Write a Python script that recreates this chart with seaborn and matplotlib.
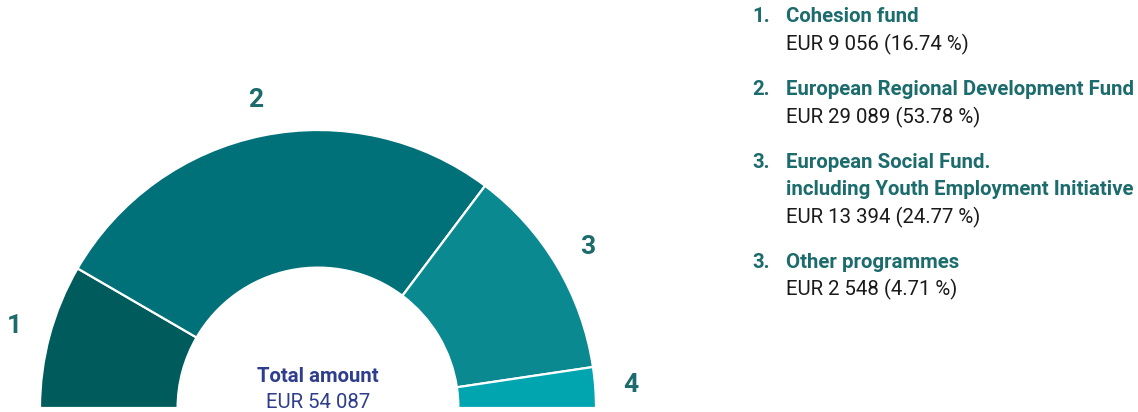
import matplotlib
matplotlib.use("Agg")
import matplotlib.pyplot as plt
from matplotlib import font_manager
import seaborn as sns

# data
seg_ids = ["1", "2", "3", "4"]
legend_nums = ["1.", "2.", "3.", "3."]
fund_names = [["Cohesion fund"],
              ["European Regional Development Fund"],
              ["European Social Fund.", "including Youth Employment Initiative"],
              ["Other programmes"]]
amounts = [9056, 29089, 13394, 2548]
shares = [16.74, 53.78, 24.77, 4.71]
total = 54087

colors = sns.color_palette(["#005b5d", "#007179", "#0a8990", "#00a5b0"])
teal = "#1c6b6d"
navy = "#2e3d8c"

sns.set_theme(style="white")
available = {f.name for f in font_manager.fontManager.ttflist}
fam = "DejaVu Sans"
for cand in ["Roboto", "Open Sans", "Noto Sans"]:
    if cand in available:
        fam = cand
        break
plt.rcParams["font.family"] = [fam, "DejaVu Sans"]

W, H = 1138, 412
fig = plt.figure(figsize=(W / 100, H / 100), dpi=100)
fig.patch.set_facecolor("white")

# half donut: centre (318, 408) px, radius 278 px
ax = fig.add_axes([40 / W, 4 / H, 556 / W, 278 / H])
fracs = [a / (2 * total) for a in amounts]
wedges, texts = ax.pie(fracs, normalize=False, startangle=180, counterclock=False,
                       colors=colors, labels=seg_ids, labeldistance=1.13,
                       wedgeprops=dict(width=0.495, edgecolor="white", linewidth=1.6),
                       textprops=dict(color=teal, fontsize=19, fontweight="bold"))
for t in texts:
    t.set_ha("center")
    t.set_va("center")
ax.set_xlim(-1, 1)
ax.set_ylim(0, 1)
ax.set_aspect("auto")
ax.axis("off")


def px(x, y):
    return x / W, 1 - y / H


fs = 14.7
fig.text(*px(318, 376), "Total amount", color=navy, fontsize=fs, fontweight="bold",
         ha="center", va="center")
fig.text(*px(318, 403), f"EUR {total:,}".replace(",", " "), color=navy, fontsize=fs,
         ha="center", va="center")

y = 17
for num, name, amt, sh in zip(legend_nums, fund_names, amounts, shares):
    fig.text(*px(752, y), num, color=teal, fontsize=fs, fontweight="bold", va="center")
    for line in name:
        fig.text(*px(786, y), line, color=teal, fontsize=fs, fontweight="bold", va="center")
        y += 27.5
    fig.text(*px(786, y), f"EUR {amt:,} ({sh:.2f} %)".replace(",", " "), color="#1a1a1a",
             fontsize=fs, va="center")
    y += 45

fig.savefig("out.png", dpi=100, facecolor="white")
